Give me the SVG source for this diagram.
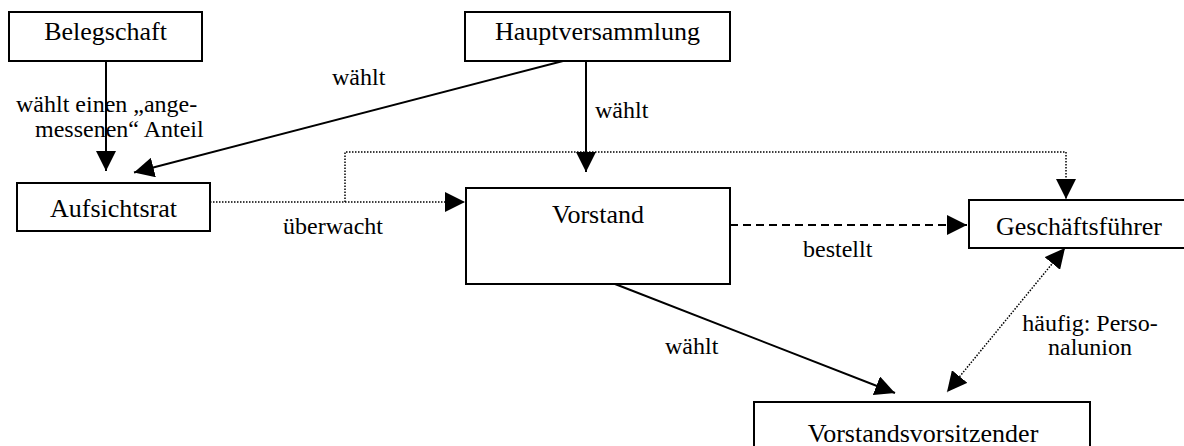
<svg xmlns="http://www.w3.org/2000/svg" width="1184" height="446" viewBox="0 0 1184 446">
<style>
.box{fill:#fff;stroke:#000;stroke-width:2}
text{font-family:'Liberation Serif','DejaVu Serif',serif;fill:#000}
.nt{font-size:26px;text-anchor:middle}
.lb{font-size:24px}
.solid{fill:none;stroke:#000;stroke-width:2}
.dot{fill:none;stroke:#000;stroke-width:1.5;stroke-dasharray:1.5 1.5}
.dash{fill:none;stroke:#000;stroke-width:2;stroke-dasharray:8 5}
</style>
<defs>
<marker id="ah" viewBox="0 0 20 20" refX="20" refY="10" markerWidth="20" markerHeight="20" markerUnits="userSpaceOnUse" orient="auto-start-reverse">
<path d="M0,0 L20,10 L0,20 z" fill="#000"/>
</marker>
</defs>
<g id="connectors">
<path class="solid" d="M106,61 L106,171" marker-end="url(#ah)"/>
<path class="solid" d="M563,61 L134,172.5" marker-end="url(#ah)"/>
<path class="dot" d="M345,202 L345,152 L1066,152 L1066,199" marker-end="url(#ah)"/>
<path class="solid" d="M586,61 L586,172" marker-end="url(#ah)"/>
<path class="dot" d="M210,202 L465,202" marker-end="url(#ah)"/>
<path class="dash" d="M730,225 L967,225" marker-end="url(#ah)"/>
<path class="solid" d="M615,284 L895,393" marker-end="url(#ah)"/>
<path class="dot" d="M1065,248 L947,392" marker-start="url(#ah)" marker-end="url(#ah)"/>
<text class="lb" x="16" y="112">wählt einen „ange-</text>
<text class="lb" x="35" y="137">messenen“ Anteil</text>
<text class="lb" x="332" y="85">wählt</text>
<text class="lb" x="595" y="118">wählt</text>
<text class="lb" x="283" y="234">überwacht</text>
<text class="lb" x="803" y="257">bestellt</text>
<text class="lb" x="665" y="354">wählt</text>
<text class="lb" x="1090" y="331" text-anchor="middle">häufig: Perso-</text>
<text class="lb" x="1090" y="355" text-anchor="middle">nalunion</text>
</g>
<g id="belegschaft"><rect class="box" x="9" y="12" width="193" height="49"/><text class="nt" x="105.5" y="40">Belegschaft</text></g>
<g id="hauptversammlung"><rect class="box" x="465" y="12" width="265" height="49"/><text class="nt" x="597.5" y="40">Hauptversammlung</text></g>
<g id="aufsichtsrat"><rect class="box" x="17" y="183" width="193" height="48"/><text class="nt" x="113.5" y="217">Aufsichtsrat</text></g>
<g id="vorstand"><rect class="box" x="466" y="188" width="264" height="96"/><text class="nt" x="598" y="223">Vorstand</text></g>
<g id="geschaeftsfuehrer"><rect class="box" x="969" y="200" width="221" height="48"/><text class="nt" x="1079" y="235">Geschäftsführer</text></g>
<g id="vorstandsvorsitzender"><rect class="box" x="754" y="402" width="336" height="50"/><text class="nt" x="923" y="442">Vorstandsvorsitzender</text></g>
</svg>
